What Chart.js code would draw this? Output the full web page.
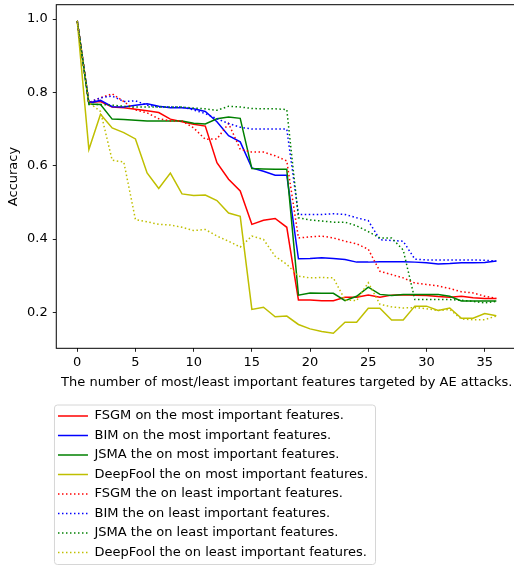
<!DOCTYPE html>
<html>
<head>
<meta charset="utf-8">
<script src="https://cdn.jsdelivr.net/npm/chart.js@4.4.1/dist/chart.umd.min.js"></script>
<style>
  html, body { margin: 0; padding: 0; background: #fff; overflow: hidden; }
  canvas { display: block; }
</style>
</head>
<body>
<canvas id="myChart" width="520" height="570"></canvas>
<script>
'use strict'

// number of most/least important features attacked
const features = [0, 1, 2, 3, 4, 5, 6, 7, 8, 9, 10, 11, 12, 13, 14, 15, 16, 17, 18,
    19, 20, 21, 22, 23, 24, 25, 26, 27, 28, 29, 30, 31, 32, 33, 34, 35, 36]
const xTicks = [0, 5, 10, 15, 20, 25, 30, 35]
const yTicks = [0.2, 0.4, 0.6, 0.8, 1.0]

// accuracy, most important features
const fsgmMost = [0.995, 0.772, 0.775, 0.76, 0.758, 0.754, 0.75, 0.745, 0.727, 0.72, 0.713, 0.708, 0.608, 0.563, 0.531, 0.44, 0.451, 0.456, 0.432,
    0.234, 0.234, 0.232, 0.232, 0.241, 0.241, 0.247, 0.241, 0.247, 0.248, 0.247, 0.246, 0.243, 0.241, 0.244, 0.24, 0.238, 0.238]
const bimMost = [0.995, 0.771, 0.778, 0.761, 0.76, 0.765, 0.769, 0.762, 0.758, 0.758, 0.755, 0.748, 0.72, 0.682, 0.665, 0.594, 0.585, 0.574, 0.574,
    0.346, 0.347, 0.349, 0.347, 0.344, 0.337, 0.337, 0.338, 0.338, 0.338, 0.337, 0.335, 0.332, 0.333, 0.335, 0.335, 0.336, 0.34]
const jsmaMost = [0.995, 0.768, 0.767, 0.727, 0.726, 0.724, 0.722, 0.722, 0.722, 0.722, 0.716, 0.714, 0.728, 0.733, 0.729, 0.592, 0.591, 0.59, 0.59,
    0.247, 0.253, 0.252, 0.252, 0.232, 0.244, 0.269, 0.249, 0.246, 0.249, 0.249, 0.249, 0.249, 0.244, 0.231, 0.231, 0.231, 0.231]
const deepfoolMost = [0.995, 0.644, 0.74, 0.703, 0.69, 0.673, 0.58, 0.538, 0.58, 0.523, 0.519, 0.52, 0.505, 0.471, 0.462, 0.208, 0.214, 0.188, 0.19,
    0.167, 0.155, 0.148, 0.143, 0.173, 0.173, 0.211, 0.211, 0.179, 0.179, 0.217, 0.217, 0.205, 0.212, 0.184, 0.184, 0.197, 0.191]

// accuracy, least important features
const fsgmLeast = [0.995, 0.772, 0.785, 0.796, 0.775, 0.752, 0.744, 0.728, 0.722, 0.722, 0.703, 0.672, 0.673, 0.715, 0.645, 0.637, 0.637, 0.627, 0.613,
    0.403, 0.406, 0.408, 0.403, 0.394, 0.387, 0.372, 0.312, 0.303, 0.294, 0.28, 0.276, 0.272, 0.265, 0.256, 0.253, 0.244, 0.238]
const bimLeast = [0.995, 0.772, 0.785, 0.79, 0.775, 0.777, 0.765, 0.76, 0.76, 0.76, 0.752, 0.742, 0.728, 0.715, 0.705, 0.7, 0.7, 0.7, 0.7,
    0.467, 0.467, 0.467, 0.469, 0.467, 0.458, 0.45, 0.398, 0.396, 0.394, 0.345, 0.343, 0.343, 0.343, 0.343, 0.343, 0.342, 0.34]
const jsmaLeast = [0.995, 0.767, 0.767, 0.765, 0.762, 0.76, 0.76, 0.76, 0.76, 0.76, 0.757, 0.755, 0.751, 0.762, 0.76, 0.756, 0.755, 0.755, 0.753,
    0.458, 0.452, 0.449, 0.446, 0.446, 0.436, 0.42, 0.403, 0.403, 0.37, 0.235, 0.235, 0.235, 0.235, 0.233, 0.23, 0.226, 0.23]
const deepfoolLeast = [0.995, 0.772, 0.748, 0.615, 0.61, 0.453, 0.447, 0.44, 0.438, 0.432, 0.423, 0.426, 0.408, 0.394, 0.378, 0.408, 0.399, 0.353, 0.331,
    0.299, 0.294, 0.295, 0.294, 0.234, 0.232, 0.281, 0.222, 0.215, 0.212, 0.213, 0.21, 0.205, 0.208, 0.182, 0.18, 0.18, 0.19]

const seriesNames = [
    'FSGM on the most important features.',
    'BIM on the most important features.',
    'JSMA the on most important features.',
    'DeepFool the on most important features.',
    'FSGM the on least important features.',
    'BIM the on least important features.',
    'JSMA the on least important features.',
    'DeepFool the on least important features.'
]
const seriesValues = [fsgmMost, bimMost, jsmaMost, deepfoolMost, fsgmLeast, bimLeast, jsmaLeast, deepfoolLeast]
const colors = ['#ff0000', '#0000ff', '#008000', '#bfbf00']

Chart.defaults.font.family = '"DejaVu Sans", sans-serif'
Chart.defaults.font.size = 13
Chart.defaults.color = '#000'

const datasets = seriesValues.map((values, i) => ({
    label: seriesNames[i],
    data: values.map((v, j) => ({x: features[j], y: v})),
    borderColor: colors[i % 4],
    backgroundColor: colors[i % 4],
    borderWidth: 1.5,
    borderDash: i < 4 ? [] : [1.5, 2.5],
    pointRadius: 0,
    tension: 0,
    // later series on top, like matplotlib
    order: seriesValues.length - i
}))

// no extra room for half labels at the axis ends
const noLabelPadding = axis => {
    axis.paddingTop = 0
    axis.paddingBottom = 0
    axis.paddingLeft = 0
    axis.paddingRight = 0
}

const frame = {
    id: 'frame',
    afterLayout(chart) {
        // legend sits a little left of the axes
        chart.legend.left = chart.chartArea.left - 4.8
    },
    afterDraw(chart) {
        const {ctx, chartArea: a, legend} = chart
        ctx.save()
        ctx.strokeStyle = '#000'
        ctx.lineWidth = 1
        ctx.strokeRect(a.left, a.top, a.right - a.left, a.bottom - a.top)

        const boxes = legend.legendHitBoxes
        const last = boxes[boxes.length - 1]
        const x0 = boxes[0].left - 4
        const y0 = boxes[0].top - 5
        const x1 = Math.max(...boxes.map(b => b.left + b.width)) + 7
        const y1 = last.top + last.height + 5
        ctx.strokeStyle = '#d6d6d6'
        ctx.beginPath()
        ctx.roundRect(x0 + 0.5, y0 + 0.5, x1 - x0, y1 - y0, 3)
        ctx.stroke()
        ctx.restore()
    }
}

const ctx = document.getElementById('myChart').getContext('2d')

const myChart = new Chart(ctx, {
    type: 'line',
    data: {datasets: datasets},
    plugins: [frame],
    options: {
        responsive: false,
        animation: false,
        layout: {padding: {top: 4.7, right: 2.7, bottom: 1, left: 0}},
        scales: {
            x: {
                type: 'linear',
                min: -1.8,
                max: 37.8,
                afterBuildTicks: axis => { axis.ticks = xTicks.map(value => ({value})) },
                afterFit: noLabelPadding,
                ticks: {padding: 3.5, color: '#000'},
                grid: {drawOnChartArea: false, tickLength: 3.5, color: '#222'},
                border: {display: false},
                title: {
                    display: true,
                    text: 'The number of most/least important features targeted by AE attacks.',
                    color: '#000',
                    padding: {top: 0, bottom: 13}
                }
            },
            y: {
                type: 'linear',
                min: 0.102,
                max: 1.039,
                afterBuildTicks: axis => { axis.ticks = yTicks.map(value => ({value})) },
                afterFit: noLabelPadding,
                ticks: {padding: 5, color: '#000', callback: v => v.toFixed(1)},
                grid: {drawOnChartArea: false, tickLength: 3.5, color: '#222'},
                border: {display: false},
                title: {display: true, text: 'Accuracy', color: '#000', padding: {top: 5.8, bottom: 0.7}}
            }
        },
        plugins: {
            tooltip: {enabled: false},
            legend: {
                position: 'bottom',
                align: 'start',
                fullSize: false,
                labels: {
                    usePointStyle: true,
                    pointStyle: 'line',
                    pointStyleWidth: 30,
                    padding: 6.5,
                    color: '#000',
                    generateLabels: chart => {
                        const items = Chart.defaults.plugins.legend.labels.generateLabels(chart)
                        items.forEach(item => {
                            const ds = chart.data.datasets[item.datasetIndex]
                            item.lineDash = ds.borderDash
                            item.lineWidth = ds.borderWidth
                            item.strokeStyle = ds.borderColor
                        })
                        return items.sort((a, b) => a.datasetIndex - b.datasetIndex)
                    }
                }
            }
        }
    }
})
</script>
</body>
</html>
